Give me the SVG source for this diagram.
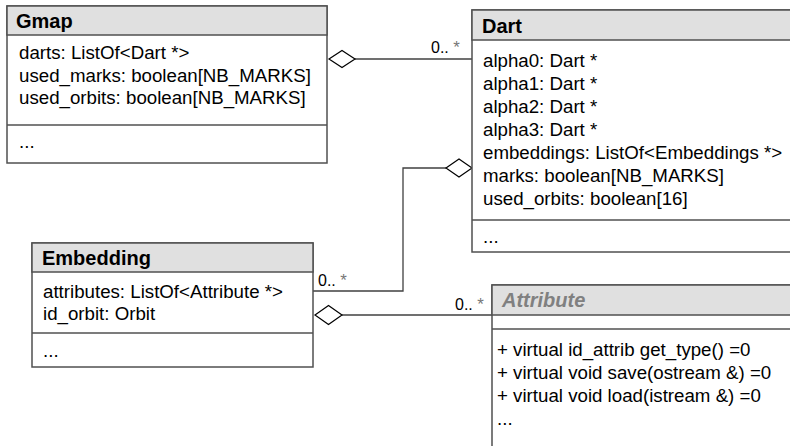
<svg xmlns="http://www.w3.org/2000/svg" width="790" height="446" viewBox="0 0 790 446">
<style>
.box{fill:#fff;stroke:#505050;stroke-width:1.5}
.hdr{fill:#e0e0e0;stroke:#505050;stroke-width:1.5}
.sep{stroke:#505050;stroke-width:1.5}
.t{font-family:"Liberation Sans",Arial,sans-serif;font-size:18.7px;fill:#000}
.ttl{font-family:"Liberation Sans",Arial,sans-serif;font-size:20px;font-weight:bold;fill:#000}
.abs{font-style:italic;fill:#808080}
.lbl{font-family:"Liberation Sans",Arial,sans-serif;font-size:16px;fill:#000}
.star{fill:#777;font-size:17px}
.con{fill:none;stroke:#404040;stroke-width:1.3}
.dia{fill:#fff;stroke:#000;stroke-width:1.2}
</style>
<g id="connectors">
<line class="con" x1="355" y1="59" x2="472" y2="59"/>
<polygon class="dia" points="329,59 342,50.5 355,59 342,67.5"/>
<text class="lbl" x="431" y="53">0.. <tspan class="star">*</tspan></text>
<polyline class="con" points="446,168 403,168 403,291 313,291"/>
<polygon class="dia" points="446,168 459,159 472,168 459,177"/>
<text class="lbl" x="318" y="286">0.. <tspan class="star">*</tspan></text>
<line class="con" x1="342" y1="315" x2="492" y2="315"/>
<polygon class="dia" points="315,315 328.5,305.5 342,315 328.5,324.5"/>
<text class="lbl" x="455" y="310">0.. <tspan class="star">*</tspan></text>
</g>
<g id="Gmap">
<rect class="box" x="7" y="6" width="320" height="157"/>
<rect class="hdr" x="7" y="6" width="320" height="29"/>
<text class="ttl" x="16" y="28">Gmap</text>
<text class="t" x="19" y="59">darts: ListOf&lt;Dart *&gt;</text>
<text class="t" x="19" y="81.5">used_marks: boolean[NB_MARKS]</text>
<text class="t" x="19" y="104">used_orbits: boolean[NB_MARKS]</text>
<line class="sep" x1="7" y1="125" x2="327" y2="125"/>
<text class="t" x="19" y="148">...</text>
</g>
<g id="Dart">
<rect class="box" x="472" y="10" width="330" height="242"/>
<rect class="hdr" x="472" y="10" width="330" height="30"/>
<text class="ttl" x="482" y="33">Dart</text>
<text class="t" x="483" y="67">alpha0: Dart *</text>
<text class="t" x="483" y="90">alpha1: Dart *</text>
<text class="t" x="483" y="113">alpha2: Dart *</text>
<text class="t" x="483" y="136">alpha3: Dart *</text>
<text class="t" x="483" y="159">embeddings: ListOf&lt;Embeddings *&gt;</text>
<text class="t" x="483" y="182">marks: boolean[NB_MARKS]</text>
<text class="t" x="483" y="205">used_orbits: boolean[16]</text>
<line class="sep" x1="472" y1="220" x2="802" y2="220"/>
<text class="t" x="483" y="243">...</text>
</g>
<g id="Embedding">
<rect class="box" x="32" y="243" width="281" height="124"/>
<rect class="hdr" x="32" y="243" width="281" height="29"/>
<text class="ttl" x="42" y="265">Embedding</text>
<text class="t" x="43" y="298">attributes: ListOf&lt;Attribute *&gt;</text>
<text class="t" x="43" y="320">id_orbit: Orbit</text>
<line class="sep" x1="32" y1="333" x2="313" y2="333"/>
<text class="t" x="43" y="357">...</text>
</g>
<g id="Attribute">
<rect class="box" x="492" y="285" width="310" height="170"/>
<rect class="hdr" x="492" y="285" width="310" height="30"/>
<text class="ttl abs" x="502" y="307">Attribute</text>
<line class="sep" x1="492" y1="329" x2="802" y2="329"/>
<text class="t" x="497" y="356">+ virtual id_attrib get_type() =0</text>
<text class="t" x="497" y="379">+ virtual void save(ostream &amp;) =0</text>
<text class="t" x="497" y="402">+ virtual void load(istream &amp;) =0</text>
<text class="t" x="497" y="425">...</text>
</g>
</svg>
